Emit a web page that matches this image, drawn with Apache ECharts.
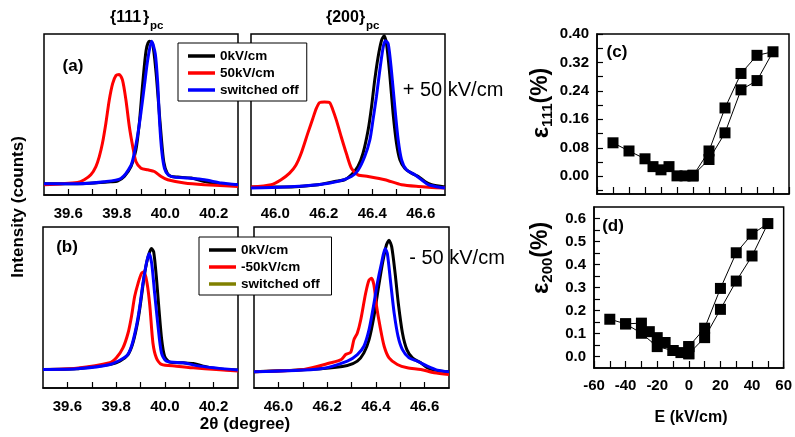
<!DOCTYPE html>
<html><head><meta charset="utf-8">
<script src="https://cdn.jsdelivr.net/npm/echarts@6/dist/echarts.min.js"></script>
<style>html,body{margin:0;padding:0;background:#fff}#c{width:795px;height:437px}</style>
</head><body><div id="c"></div>
<script>
const FONT = '"Liberation Sans", Arial, Helvetica, sans-serif';

// ---------- spectra: [2theta, intensity (arb. counts)] ----------
// (a) {111}pc, +50 kV/cm
const a111Zero = [[39.50,34],[39.638,34],[39.707,36],[39.776,40],[39.803,42],[39.831,56],[39.859,86],[39.879,136],[39.893,216],[39.907,336],[39.921,436],[39.934,464],[39.948,456],[39.962,370],[39.972,280],[39.983,180],[39.994,100],[40.008,66],[40.024,56],[40.052,54],[40.107,51],[40.162,41],[40.217,34],[40.30,31]];
const a111Field = [[39.50,31],[39.638,38],[39.666,46],[39.693,61],[39.714,86],[39.728,116],[39.741,156],[39.755,216],[39.769,286],[39.783,336],[39.797,361],[39.810,364],[39.824,346],[39.838,286],[39.852,206],[39.866,146],[39.879,101],[39.900,81],[39.928,76],[39.955,71],[39.983,56],[40.010,46],[40.079,36],[40.162,31],[40.30,26]];
const a111Off = [[39.50,34],[39.638,34],[39.748,40],[39.817,50],[39.859,90],[39.872,125],[39.886,180],[39.900,250],[39.914,330],[39.928,410],[39.944,464],[39.959,426],[39.969,336],[39.977,216],[39.986,130],[39.997,80],[40.013,60],[40.038,54],[40.093,51],[40.162,46],[40.231,36],[40.30,31]];
// (a) {200}pc
const a200Zero = [[45.90,24],[46.038,24],[46.176,31],[46.245,41],[46.286,46],[46.314,61],[46.341,86],[46.362,126],[46.383,196],[46.397,266],[46.410,346],[46.424,416],[46.438,466],[46.449,481],[46.459,456],[46.472,366],[46.486,246],[46.500,156],[46.514,106],[46.534,81],[46.562,66],[46.590,56],[46.617,41],[46.645,31],[46.70,24]];
const a200Field = [[45.90,24],[45.983,31],[46.024,46],[46.059,66],[46.085,90],[46.107,126],[46.134,186],[46.155,231],[46.169,261],[46.183,279],[46.203,281],[46.224,279],[46.238,256],[46.252,226],[46.272,176],[46.293,126],[46.314,81],[46.341,61],[46.383,56],[46.452,46],[46.521,31],[46.590,26],[46.70,21]];
const a200Off = [[45.90,21],[46.038,24],[46.176,31],[46.259,41],[46.314,56],[46.341,74],[46.369,116],[46.390,166],[46.403,226],[46.417,296],[46.431,376],[46.445,446],[46.454,466],[46.466,456],[46.479,376],[46.493,266],[46.507,166],[46.521,106],[46.541,76],[46.576,61],[46.603,46],[46.631,31],[46.672,24],[46.70,21]];
// (b) {111}pc, -50 kV/cm
const b111Zero = [[39.50,56],[39.637,58],[39.705,64],[39.774,71],[39.815,81],[39.849,101],[39.869,136],[39.890,206],[39.904,276],[39.917,346],[39.931,396],[39.945,421],[39.954,411],[39.965,336],[39.976,236],[39.987,146],[39.999,96],[40.020,78],[40.075,76],[40.116,74],[40.157,66],[40.211,58],[40.30,54]];
const b111Field = [[39.50,56],[39.637,60],[39.774,76],[39.801,91],[39.828,121],[39.849,166],[39.863,216],[39.876,276],[39.890,316],[39.904,346],[39.915,351],[39.927,316],[39.938,250],[39.951,136],[39.965,91],[39.986,71],[40.047,66],[40.116,61],[40.211,56],[40.30,51]];
const b111Off = [[39.50,56],[39.637,58],[39.774,71],[39.842,96],[39.863,126],[39.883,186],[39.897,246],[39.910,316],[39.924,376],[39.935,406],[39.946,376],[39.958,286],[39.972,186],[39.986,106],[40.006,81],[40.075,76],[40.143,66],[40.30,54]];
// (b) {200}pc
const b200Zero = [[45.90,49],[46.037,53],[46.174,58],[46.283,68],[46.324,81],[46.351,106],[46.372,146],[46.392,216],[46.409,296],[46.427,376],[46.443,431],[46.454,446],[46.465,426],[46.479,346],[46.492,256],[46.509,166],[46.527,116],[46.550,91],[46.584,76],[46.611,61],[46.639,54],[46.70,49]];
const b200Field = [[45.90,49],[46.105,56],[46.215,76],[46.258,86],[46.276,101],[46.297,108],[46.310,146],[46.324,166],[46.338,206],[46.358,286],[46.372,326],[46.382,331],[46.392,311],[46.403,246],[46.417,186],[46.434,126],[46.454,91],[46.488,71],[46.529,61],[46.584,56],[46.639,46],[46.70,41]];
const b200Off = [[45.90,49],[46.174,58],[46.283,81],[46.324,101],[46.351,126],[46.372,176],[46.390,246],[46.406,316],[46.423,376],[46.438,421],[46.447,406],[46.461,316],[46.475,226],[46.491,156],[46.509,116],[46.536,91],[46.570,81],[46.611,66],[46.652,54],[46.70,49]];

// ---------- strain vs field ----------
const cLoopE = [0,10,20,30,40,50,40,30,20,10,0];
const cLoopStrain = [0.003,0.047,0.122,0.243,0.269,0.350,0.340,0.289,0.192,0.071,0.001];
const cNegE = [0,-5,-10,-15,-20,-25,-30,-40,-50];
const cNegStrain = [0.001,0.001,0.001,0.027,0.018,0.027,0.049,0.071,0.094];

const dLoopE = [0,10,20,30,40,50,40,30,20,10,0];
const dLoopStrain = [0.012,0.082,0.205,0.328,0.437,0.578,0.532,0.451,0.296,0.123,0.043];
const dNegE1 = [0,-5,-10,-15,-20,-25,-30,-40,-50];
const dNegStrain1 = [0.043,0.017,0.026,0.061,0.082,0.108,0.145,0.142,0.162];
const dNegE2 = [-40,-30,-20,-10,0];
const dNegStrain2 = [0.142,0.101,0.043,0.026,0.012];

// ---------- ticks & titles ----------
const ticks111 = [39.6,39.7,39.8,39.9,40.0,40.1,40.2];
const labels111 = [39.6,39.8,40.0,40.2];
const ticks200 = [46.0,46.1,46.2,46.3,46.4,46.5,46.6];
const labels200 = [46.0,46.2,46.4,46.6];
const cYTicks = [-0.04,0,0.04,0.08,0.12,0.16,0.20,0.24,0.28,0.32,0.36,0.40];
const cYLabels = [0,0.08,0.16,0.24,0.32,0.40];
const dYTicks = [0,0.05,0.1,0.15,0.2,0.25,0.3,0.35,0.4,0.45,0.5,0.55,0.6];
const dYLabels = [0,0.1,0.2,0.3,0.4,0.5,0.6];
const eLabels = [-60,-40,-20,0,20,40,60];
const planeIdx = ['111', '200'];

const zip = (xs, ys) => xs.map((x, i) => [x, ys[i]]);

const chart = echarts.init(document.getElementById('c'), null, {renderer: 'canvas'});

const gridBase = {show: true, borderColor: '#000', borderWidth: 1.5, backgroundColor: 'transparent', containLabel: false};
const grids = [
  Object.assign({left: 44, top: 34, width: 194, height: 161}, gridBase),
  Object.assign({left: 251, top: 34, width: 194, height: 161}, gridBase),
  Object.assign({left: 43, top: 227, width: 195, height: 161}, gridBase),
  Object.assign({left: 254, top: 227, width: 195, height: 161}, gridBase),
  Object.assign({left: 597, top: 34, width: 192, height: 160}, gridBase),
  Object.assign({left: 594, top: 207, width: 194, height: 161}, gridBase)
];

const lbl = {color: '#000', fontSize: 15, fontWeight: 'bold', fontFamily: FONT};
const axLine = {show: true, onZero: false, lineStyle: {color: '#000', width: 1.5}};
function specX(gi, min, max, ticks, labels) {
  return {
    type: 'value', gridIndex: gi, min: min, max: max,
    axisLine: axLine,
    axisTick: {show: true, inside: true, length: 6, customValues: ticks, lineStyle: {color: '#000', width: 1.2}},
    axisLabel: Object.assign({customValues: labels, formatter: v => v.toFixed(1), margin: 11}, lbl),
    splitLine: {show: false}
  };
}
function specY(gi) {
  return {type: 'value', gridIndex: gi, min: 0, max: 486, show: false, axisLine: {onZero: false}, splitLine: {show: false}};
}

const xAxes = [
  specX(0, 39.5, 40.3, ticks111, labels111),
  specX(1, 45.9, 46.7, ticks200, labels200),
  specX(2, 39.5, 40.3, ticks111, labels111),
  specX(3, 45.9, 46.7, ticks200, labels200),
  {type: 'value', gridIndex: 4, min: -60, max: 60, interval: 10, axisLine: axLine,
   axisTick: {show: true, inside: true, length: 7, lineStyle: {color: '#000', width: 1.2}},
   axisLabel: {show: false}, splitLine: {show: false}},
  {type: 'value', gridIndex: 5, min: -60, max: 60, interval: 10, axisLine: axLine,
   axisTick: {show: true, inside: true, length: 7, lineStyle: {color: '#000', width: 1.2}},
   axisLabel: Object.assign({customValues: eLabels, margin: 10}, lbl), splitLine: {show: false}}
];
const yAxes = [
  specY(0), specY(1), specY(2), specY(3),
  {type: 'value', gridIndex: 4, min: -0.05, max: 0.40, axisLine: axLine,
   axisTick: {show: true, inside: true, length: 6, customValues: cYTicks, lineStyle: {color: '#000', width: 1.2}},
   axisLabel: Object.assign({customValues: cYLabels, formatter: v => v.toFixed(2), margin: 8}, lbl),
   splitLine: {show: false}},
  {type: 'value', gridIndex: 5, min: -0.05, max: 0.65, axisLine: axLine,
   axisTick: {show: true, inside: true, length: 6, customValues: dYTicks, lineStyle: {color: '#000', width: 1.2}},
   axisLabel: Object.assign({customValues: dYLabels, formatter: v => v.toFixed(1), margin: 8}, lbl),
   splitLine: {show: false}}
];

function spec(name, data, gi, color) {
  return {name: name, type: 'line', xAxisIndex: gi, yAxisIndex: gi, data: data,
    symbol: 'none', smooth: 0.25, color: color,
    lineStyle: {color: color, width: 3}, clip: true, z: 2};
}
function strain(data, gi) {
  return {type: 'line', xAxisIndex: gi, yAxisIndex: gi, data: data,
    symbol: 'rect', symbolSize: 11, showAllSymbol: true, color: '#000',
    itemStyle: {color: '#000'}, lineStyle: {color: '#000', width: 1}, z: 3};
}

const series = [
  spec('0kV/cm', a111Zero, 0, '#000000'),
  spec('50kV/cm', a111Field, 0, '#ff0000'),
  spec('switched off', a111Off, 0, '#0000ff'),
  spec('0kV/cm', a200Zero, 1, '#000000'),
  spec('50kV/cm', a200Field, 1, '#ff0000'),
  spec('switched off', a200Off, 1, '#0000ff'),
  spec('0kV/cm', b111Zero, 2, '#000000'),
  spec('-50kV/cm', b111Field, 2, '#ff0000'),
  spec('off (b)', b111Off, 2, '#0000ff'),
  spec('0kV/cm', b200Zero, 3, '#000000'),
  spec('-50kV/cm', b200Field, 3, '#ff0000'),
  spec('off (b)', b200Off, 3, '#0000ff'),
  spec('switched off ', [], 2, '#808000'),
  strain(zip(cLoopE, cLoopStrain), 4),
  strain(zip(cNegE, cNegStrain), 4),
  strain(zip(dLoopE, dLoopStrain), 5),
  strain(zip(dNegE1, dNegStrain1), 5),
  strain(zip(dNegE2, dNegStrain2), 5)
];

const legendBase = {
  orient: 'vertical', icon: 'rect', itemWidth: 27, itemHeight: 3.5, itemGap: 1, itemTextGap: 6,
  padding: [5, 8, 3, 10], borderColor: '#000', borderWidth: 1, backgroundColor: '#fff',
  textStyle: {color: '#000', fontSize: 13.5, fontWeight: 'bold', fontFamily: FONT, lineHeight: 16},
  selectedMode: false, z: 10
};
const legends = [
  Object.assign({data: ['0kV/cm', '50kV/cm', 'switched off'], left: 178, top: 43}, legendBase),
  Object.assign({data: ['0kV/cm', '-50kV/cm', 'switched off '], left: 199, top: 237}, legendBase)
];

function txt(x, y, text, font, extra, align) {
  const a = align || 'center';
  return Object.assign({type: 'text', x: x, y: y, z: 20,
    style: {text: text, font: font, fill: '#000', align: a, verticalAlign: 'middle',
            textAlign: a, textVerticalAlign: 'middle'}}, extra || {});
}
const B = (s) => 'bold ' + s + 'px ' + FONT;
function epsRich(x, y, sub) {
  const t = txt(x, y, '{e|ε}{s|' + sub + '}{p|(%)}', B(23), {rotation: Math.PI / 2});
  t.style.rich = {
    e: {font: B(24), lineHeight: 28},
    s: {font: B(15), lineHeight: 14, verticalAlign: 'bottom'},
    p: {font: B(23), lineHeight: 28}
  };
  return t;
}
// plane title built from separate pieces: "{" + index + "}" + subscript "pc"
function planeTitle(left, idx) {
  return [
    txt(left, 18, '{', B(16), null, 'left'),
    txt(left + 6.2, 18, idx, B(16), null, 'left'),
    txt(left + 32.9, 18, '}', B(16), null, 'left'),
    txt(left + 40, 26, 'pc', B(11.5), null, 'left')
  ];
}

const graphics = [].concat(
  planeTitle(110, planeIdx[0]),
  planeTitle(326, planeIdx[1]),
  [
    txt(73, 66, '(a)', B(17)),
    txt(67, 247, '(b)', B(17)),
    txt(617, 52, '(c)', B(17)),
    txt(613, 226, '(d)', B(17)),
    txt(453, 90, '+ 50 kV/cm', '20px ' + FONT),
    txt(457, 258, '- 50 kV/cm', '20px ' + FONT),
    txt(18, 207, 'Intensity (counts)', B(17), {rotation: Math.PI / 2}),
    txt(245, 424, '2θ (degree)', B(17)),
    txt(691, 418, 'E (kV/cm)', B(16)),
    epsRich(541, 103, '111'),
    epsRich(541, 258, '200')
  ]
);

chart.setOption({
  animation: false,
  backgroundColor: '#fff',
  grid: grids,
  xAxis: xAxes,
  yAxis: yAxes,
  legend: legends,
  series: series,
  graphic: {elements: graphics}
});
</script>
</body></html>
